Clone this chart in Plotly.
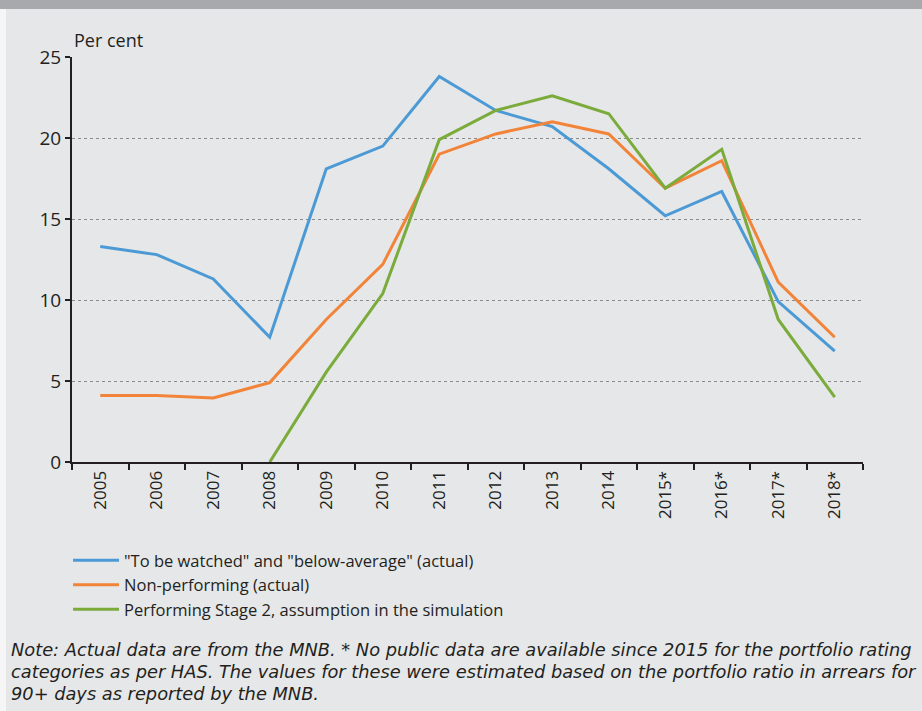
import plotly.graph_objects as go

years = ["2005", "2006", "2007", "2008", "2009", "2010", "2011", "2012", "2013",
         "2014", "2015*", "2016*", "2017*", "2018*"]

watched = [13.3, 12.8, 11.3, 7.7, 18.1, 19.5, 23.8, 21.7, 20.7, 18.1, 15.2, 16.7, 9.9, 6.85]
non_performing = [4.1, 4.1, 3.95, 4.9, 8.8, 12.2, 19.0, 20.25, 21.0, 20.25, 16.9, 18.6, 11.1, 7.7]
stage2 = [None, None, None, 0.0, 5.55, 10.4, 19.9, 21.7, 22.6, 21.5, 16.9, 19.3, 8.8, 4.0]

series = [
    ('"To be watched" and "below-average" (actual)', watched, "#4c9ad5"),
    ("Non-performing (actual)", non_performing, "#f2843a"),
    ("Performing Stage 2, assumption in the simulation", stage2, "#7aab3b"),
]

note_lines = [
    "Note: Actual data are from the MNB. * No public data are available since 2015 for the portfolio rating",
    "categories as per HAS. The values for these were estimated based on the portfolio ratio in arrears for",
    "90+ days as reported by the MNB.",
]

BG = "#e6e7e8"
INK = "#231f20"
FONT = "Open Sans, Noto Sans, sans-serif"

fig = go.Figure()
for name, values, color in series:
    fig.add_trace(go.Scatter(x=years, y=values, mode="lines", name=name,
                             line={"color": color, "width": 3}, connectgaps=False))

# plot area in pixels: 791 wide (l=72, r=59), 405 tall (t=57, b=249)
W = 791.0
H = 405.0
fig.add_shape(type="rect", xref="paper", yref="paper", x0=-80 / W, x1=1.1,
              y0=1 + 48 / H, y1=1 + 60 / H, fillcolor="#a7a9ac", line={"width": 0}, layer="below")
fig.add_shape(type="rect", xref="paper", yref="paper", x0=-80 / W, x1=-66 / W,
              y0=-260 / H, y1=1 + 48 / H, fillcolor="#f6f6f6", line={"width": 0}, layer="below")

fig.add_annotation(text="Per cent", xref="paper", yref="paper", x=0.0, y=1 + 17 / H,
                   xanchor="left", yanchor="middle", showarrow=False,
                   font={"family": FONT, "size": 18, "color": INK})

for i, line in enumerate(note_lines):
    fig.add_annotation(text=line, xref="paper", yref="paper", x=-63 / W, y=-(187 + 22 * i) / H,
                       xanchor="left", yanchor="middle", showarrow=False,
                       font={"family": "DejaVu Sans, sans-serif", "size": 17.8, "color": INK,
                             "style": "italic"})

fig.update_layout(
    width=922, height=711,
    paper_bgcolor=BG, plot_bgcolor=BG,
    margin={"l": 72, "r": 59, "t": 57, "b": 249},
    font={"family": FONT, "color": INK},
    showlegend=True,
    legend={"x": -0.005, "xanchor": "left", "y": -0.2, "yanchor": "top",
            "bgcolor": "rgba(0,0,0,0)", "font": {"size": 16.5, "color": INK},
            "tracegroupgap": 0, "itemwidth": 46},
    xaxis={"type": "category", "tickson": "boundaries", "ticks": "outside", "ticklen": 6,
           "tickwidth": 2, "tickcolor": INK, "showline": True, "linecolor": INK, "linewidth": 2,
           "showgrid": False, "tickangle": -90, "tickfont": {"size": 17, "color": INK},
           "range": [-0.5, 13.5]},
    yaxis={"range": [0, 25], "dtick": 5, "ticks": "outside", "ticklen": 5, "tickwidth": 2,
           "tickcolor": INK, "showline": True, "linecolor": INK, "linewidth": 2,
           "showgrid": True, "gridcolor": "#8a8a8a", "griddash": "dot", "gridwidth": 1,
           "zeroline": False, "tickfont": {"size": 19, "color": INK}},
)

fig.write_html("out.html", config={"displayModeBar": False},
               post_script="document.body.style.margin = '0';")
